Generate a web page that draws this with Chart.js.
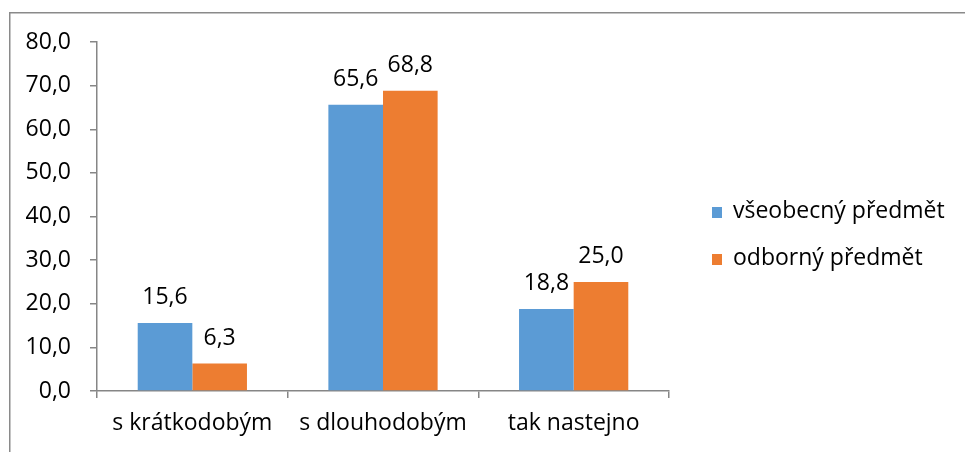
<!DOCTYPE html>
<html>
<head>
<meta charset="utf-8">
<script src="https://cdn.jsdelivr.net/npm/chart.js@4/dist/chart.umd.min.js"></script>
<style>
  html, body { margin: 0; padding: 0; background: #fff; }
  #wrap { width: 965px; height: 452px; position: relative; }
</style>
</head>
<body>
<div id="wrap"><canvas id="c" width="965" height="452"></canvas></div>
<script>
const categories = ['s krátkodobým', 's dlouhodobým', 'tak nastejno'];
const seriesNames = ['všeobecný předmět', 'odborný předmět'];
const vseobecny = [15.6, 65.6, 18.8];
const odborny = [6.3, 68.8, 25.0];
const yMin = 0, yMax = 80, yStep = 10;

const FONT = '"Open Sans", Lato, sans-serif';
const FS = 23;
const fmt = v => v.toFixed(1).replace('.', ',');

const frame = {
  id: 'frame',
  beforeDraw(chart) {
    const ctx = chart.ctx;
    ctx.save();
    ctx.fillStyle = '#fff';
    ctx.fillRect(0, 0, chart.width, chart.height);
    ctx.strokeStyle = '#8a8a8a';
    ctx.lineWidth = 1.5;
    ctx.strokeRect(9.75, 12.75, 2000, 2000);
    ctx.restore();
  }
};

const valueLabels = {
  id: 'valueLabels',
  afterDatasetsDraw(chart) {
    const ctx = chart.ctx;
    ctx.save();
    ctx.font = FS + 'px ' + FONT;
    ctx.fillStyle = '#000';
    ctx.textAlign = 'center';
    ctx.textBaseline = 'alphabetic';
    chart.data.datasets.forEach((ds, i) => {
      chart.getDatasetMeta(i).data.forEach((bar, j) => {
        ctx.fillText(fmt(ds.data[j]), bar.x, bar.y - 19);
      });
    });
    ctx.restore();
  }
};

const sideLegend = {
  id: 'sideLegend',
  afterDraw(chart) {
    const ctx = chart.ctx;
    ctx.save();
    ctx.font = FS + 'px ' + FONT;
    ctx.textBaseline = 'middle';
    ctx.textAlign = 'left';
    const x0 = chart.chartArea.right + 43;
    chart.data.datasets.forEach((ds, i) => {
      const cy = 212 + i * 47;
      ctx.fillStyle = ds.backgroundColor;
      ctx.fillRect(x0, cy - 5, 10, 11);
      ctx.fillStyle = '#000';
      ctx.fillText(ds.label, x0 + 21, cy - 1);
    });
    ctx.restore();
  }
};

new Chart(document.getElementById('c'), {
  type: 'bar',
  data: {
    labels: categories,
    datasets: [
      { label: seriesNames[0], data: vseobecny, backgroundColor: '#5B9BD5' },
      { label: seriesNames[1], data: odborny, backgroundColor: '#ED7D31' }
    ]
  },
  options: {
    responsive: false,
    animation: false,
    devicePixelRatio: 1,
    layout: { padding: { left: 10, top: 42, right: 296, bottom: 0 } },
    categoryPercentage: 0.573,
    barPercentage: 1.0,
    plugins: { legend: { display: false }, tooltip: { enabled: false } },
    scales: {
      x: {
        offset: true,
        grid: { offset: true, drawOnChartArea: false, drawTicks: true, tickLength: 7, color: '#868686', lineWidth: 1.5 },
        border: { display: true, color: '#868686', width: 1.5 },
        ticks: { color: '#000', padding: 12, font: { family: FONT, size: FS } },
        afterFit(s) { s.height = 61; }
      },
      y: {
        min: yMin, max: yMax,
        grid: { drawOnChartArea: false, drawTicks: true, tickLength: 7, color: '#868686', lineWidth: 1.5 },
        border: { display: true, color: '#868686', width: 1.5 },
        ticks: { stepSize: yStep, color: '#000', padding: 19, font: { family: FONT, size: FS }, callback: v => fmt(v) },
        afterFit(s) { s.width = 87; }
      }
    }
  },
  plugins: [frame, valueLabels, sideLegend]
});
</script>
</body>
</html>
